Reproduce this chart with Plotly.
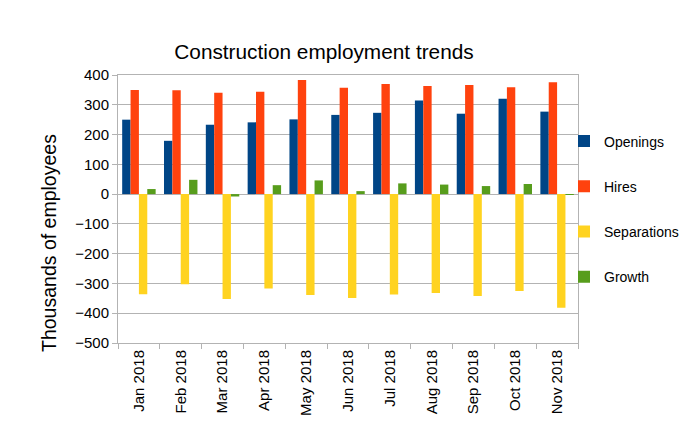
import plotly.graph_objects as go

months = ["Jan 2018", "Feb 2018", "Mar 2018", "Apr 2018", "May 2018", "Jun 2018",
          "Jul 2018", "Aug 2018", "Sep 2018", "Oct 2018", "Nov 2018"]
openings = [250, 179, 233, 241, 251, 266, 273, 314, 270, 320, 277]
hires = [350, 349, 340, 344, 383, 357, 370, 363, 366, 359, 376]
separations = [-336, -303, -352, -317, -339, -349, -337, -332, -342, -325, -382]
growth = [17, 48, -8, 30, 46, 10, 36, 32, 27, 34, -2]

series = [("Openings", openings, "#004586"),
          ("Hires", hires, "#ff420e"),
          ("Separations", separations, "#ffd320"),
          ("Growth", growth, "#579d1c")]

fig = go.Figure()
for name, vals, col in series:
    fig.add_trace(go.Bar(x=months, y=vals, name=name, marker_color=col,
                         marker_line_width=0, legendgroup=name))

font = "Liberation Sans, Arial, sans-serif"
# page body has an 8px margin, so the figure is drawn 8px in from the window edge
OFF = 8
W, H = 696 - OFF, 435 - OFF
L, R, T, B = 118 - OFF, 118, 75 - OFF, 92
PW, PH = W - L - R, H - T - B

fig.update_layout(
    width=W, height=H,
    paper_bgcolor="white", plot_bgcolor="white",
    margin=dict(l=L, r=R, t=T, b=B, autoexpand=False),
    font=dict(family=font, size=15, color="black"),
    title=dict(text="Construction employment trends", x=(324 - OFF) / W,
               xanchor="center", y=1 - (52 - OFF) / H, yanchor="middle",
               font=dict(size=20.8)),
    barmode="group", bargap=0.2, bargroupgap=0,
    showlegend=True,
    legend=dict(x=(564 - 118) / PW, xanchor="left", y=0.5, yanchor="middle",
                traceorder="grouped", tracegroupgap=24,
                font=dict(size=14), bgcolor="rgba(0,0,0,0)"),
    xaxis=dict(type="category", tickangle=-90, tickson="boundaries",
               ticks="outside", ticklen=5, tickcolor="#b3b3b3",
               showline=True, linecolor="#b3b3b3", mirror=True,
               showgrid=False, tickfont=dict(size=15), automargin=False),
    yaxis=dict(range=[-500, 400], dtick=100, ticks="outside", ticklen=5,
               tickcolor="#b3b3b3", showline=True, linecolor="#b3b3b3",
               mirror=True, showgrid=True, gridcolor="#b3b3b3",
               zeroline=True, zerolinecolor="#b3b3b3", zerolinewidth=1,
               tickfont=dict(size=15), automargin=False),
    annotations=[dict(text="Thousands of employees", textangle=-90,
                      xref="paper", yref="paper",
                      x=(49 - 118) / PW, y=(343 - 243) / PH,
                      xanchor="center", yanchor="middle", showarrow=False,
                      font=dict(size=19.5))],
)

fig.write_html("out.html")
